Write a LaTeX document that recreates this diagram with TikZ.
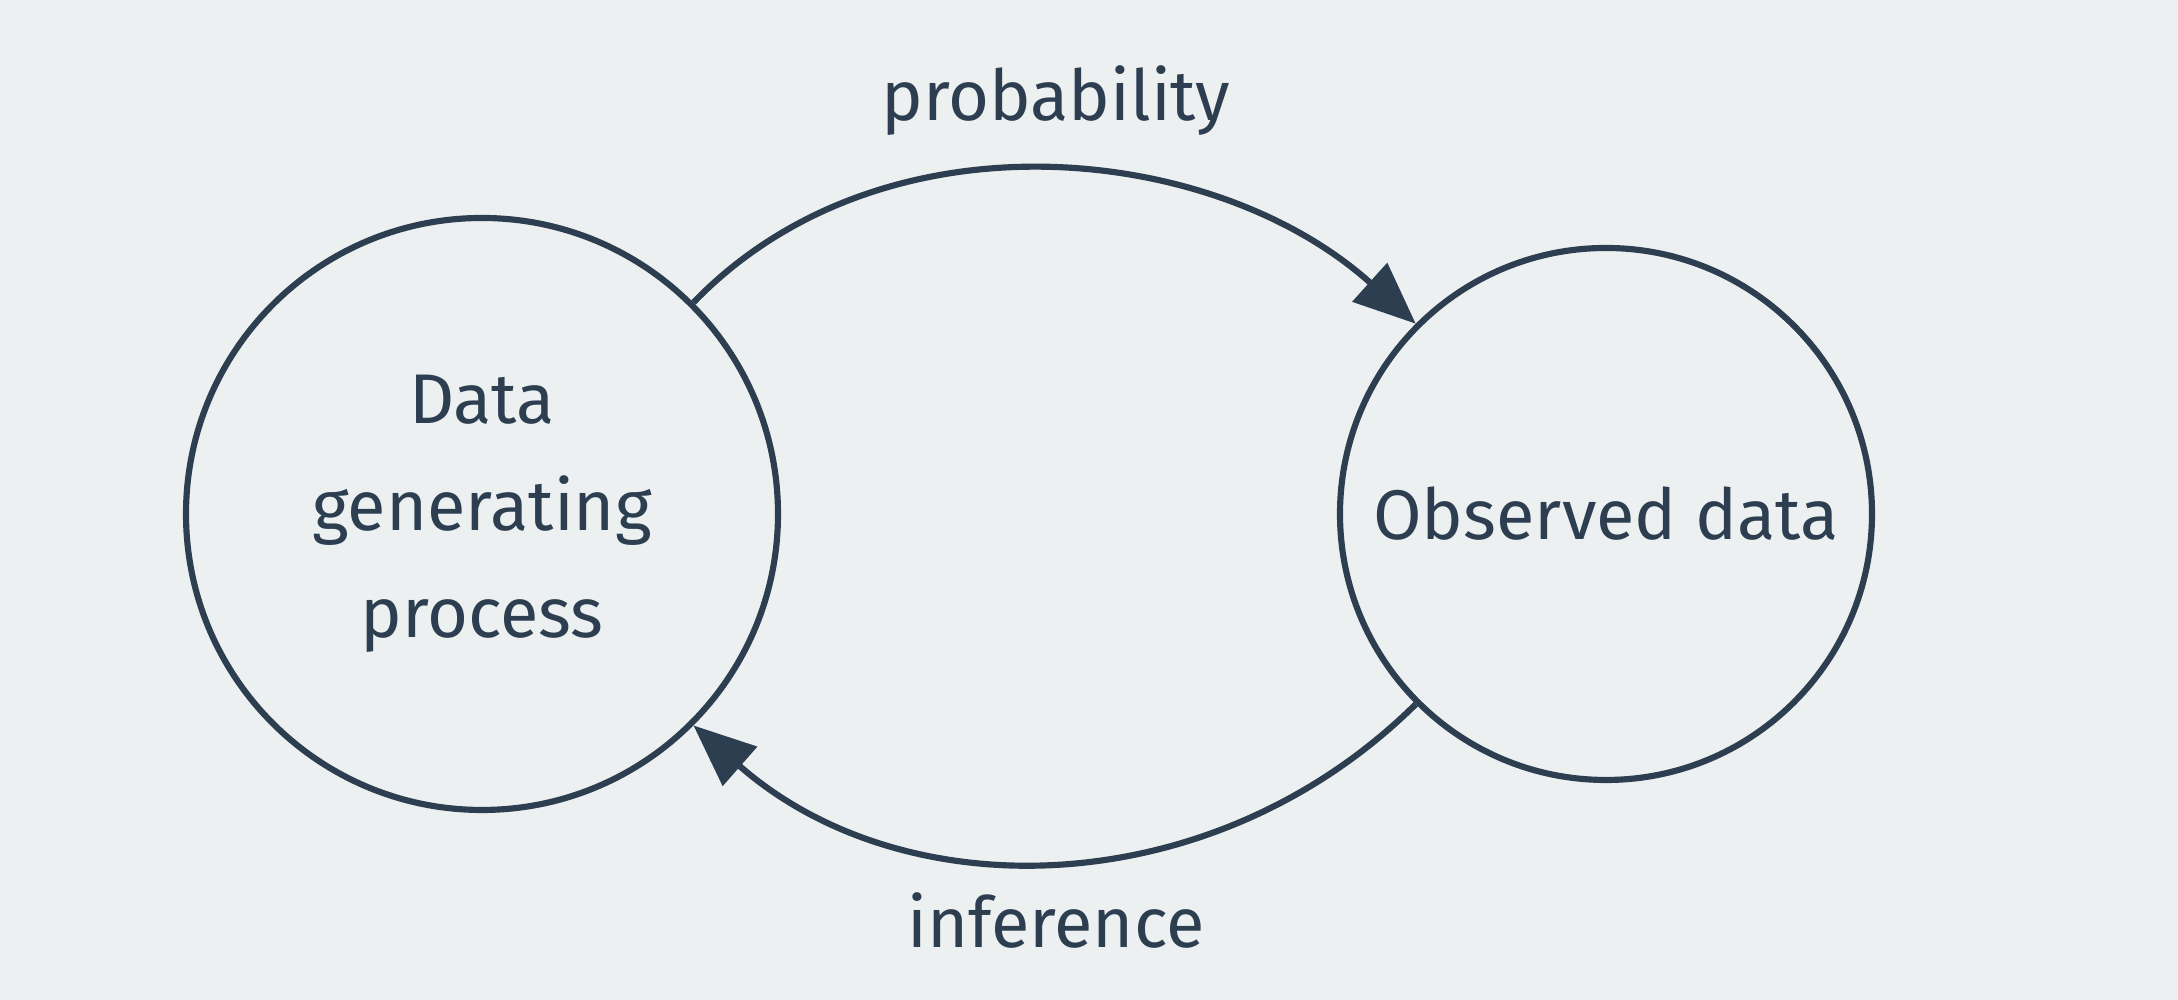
\documentclass[tikz,border=0pt]{standalone}
\usepackage{fontspec}
\setmainfont{Fira Sans}
\usepackage{tikz}
\usetikzlibrary{arrows.meta}
\definecolor{bg}{HTML}{ECF0F1}
\definecolor{ink}{HTML}{2C3E50}
\begin{document}
\begin{tikzpicture}[%
        font=\fontsize{20}{30.4}\selectfont,
        every node/.style={text=ink},
        state/.style={draw=ink,line width=1.75pt,circle,align=center,inner sep=0pt},
        flow/.style={draw=ink,line width=1.75pt,-{Triangle[length=6.2mm,width=5.1mm]}}]

    \fill[bg] (0,0) rectangle (21.78,10);
    \useasboundingbox (0,0) rectangle (21.78,10);

    \node[state,minimum size=5.92cm] (dgp) at (4.82,4.86) {Data\\generating\\process};
    \node[state,minimum size=5.32cm] (obs) at (16.06,4.86) {Observed data};

    \draw[flow] (dgp.45) to[out=46,in=138,looseness=0.96] (obs.135);
    \draw[flow] (obs.225) to[bend left=43] (dgp.-45);

    \node (prob) at (10.56,8.99) {probability};
    \node (infer) at (10.56,0.79) {inference};
\end{tikzpicture}
\end{document}
